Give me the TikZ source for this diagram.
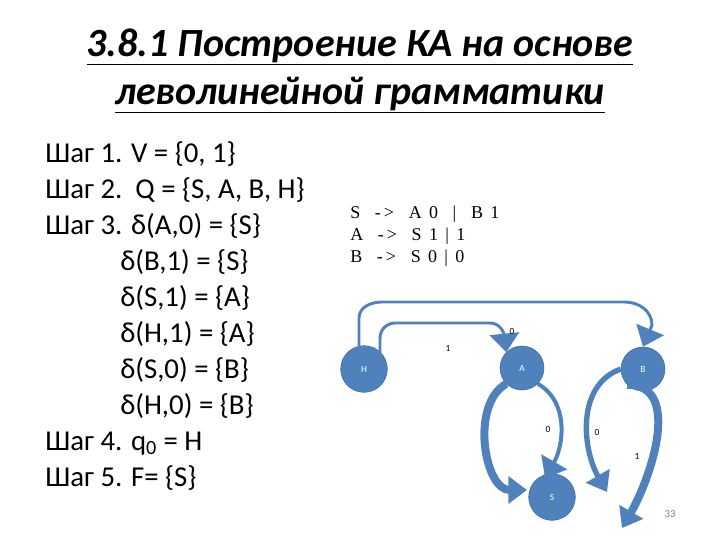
\documentclass[tikz,border=0pt]{standalone}
\usepackage{fontspec}
\setmainfont{Carlito}
\newfontfamily\gram{Liberation Serif}
\usetikzlibrary{arrows.meta}
\definecolor{ob}{HTML}{4F81BD}
\definecolor{obd}{HTML}{3C6AA3}
\newcommand{\gs}{\hspace{5.5pt}}
\begin{document}
\begin{tikzpicture}[x=0.75pt,y=-0.75pt,
 st/.style={circle,fill=ob,draw=obd,minimum size=35pt,inner sep=0pt,text=white,font=\fontsize{7}{8}\selectfont},
 body/.style={anchor=base west,inner sep=0pt,font=\fontsize{21.6}{24}\selectfont},
 ttl/.style={font=\fontsize{30}{34}\selectfont\bfseries\itshape,inner sep=0pt,anchor=base},
 gr/.style={anchor=base west,inner sep=0pt,font=\gram\fontsize{13.5}{16}\selectfont},
 lbl/.style={font=\fontsize{7}{8}\selectfont,inner sep=0pt},
 thin/.style={draw=obd,line width=2.2pt,-{Triangle[length=14pt,width=22pt]},color=ob},
 fat/.style={draw=ob,line width=6pt,-{Triangle[length=14pt,width=20pt]},color=ob}]
\useasboundingbox (0,0) rectangle (720,540);
\node[ttl] (t1) at (360,56) {\underline{3.8.1 Построение КА на основе}};
\node[ttl] (t2) at (360,104) {\underline{леволинейной грамматики}};
\node[body] (l1) at (45,162) {Шаг 1. V = \{0, 1\}};
\node[body] (l2) at (45,198) {Шаг 2.\ \ Q = \{S, A, B, H\}};
\node[body] (l3) at (45,234) {Шаг 3. δ(A,0) = \{S\}};
\node[body] (l4) at (120,270) {δ(B,1) = \{S\}};
\node[body] (l5) at (120,306) {δ(S,1) = \{A\}};
\node[body] (l6) at (120,342) {δ(H,1) = \{A\}};
\node[body] (l7) at (120,378) {δ(S,0) = \{B\}};
\node[body] (l8) at (120,414) {δ(H,0) = \{B\}};
\node[body] (l9) at (45,450) {Шаг 4. q\textsubscript{0} = H};
\node[body] (l10) at (45,486) {Шаг 5. F= \{S\}};
\node[gr] (g1) at (350,218) {S\gs\gs-\,>\gs\gs A\gs 0\gs\gs|\gs\gs B\gs 1};
\node[gr] (g2) at (350,240) {A\gs\gs -\,>\gs\gs S\gs 1\gs|\gs 1};
\node[gr] (g3) at (350,262) {B\gs\gs -\,>\gs\gs S\gs 0\gs|\gs 0};
\node[st] (H) at (364,369) {H};
\node[st,minimum size=33pt] (A) at (522,368) {A};
\node[st,minimum size=33pt] (B) at (643,369) {B};
\node[st] (S) at (552,497) {S};
\coordinate (h1) at (359,360);
\coordinate (h2) at (380,368);
\draw[thin] (h1) -- (359,318) to[out=90,in=180] (382,302) -- (625,302) to[out=0,in=90] (652,325) -- (B.north);
\draw[thin] (h2) -- (380,338) to[out=90,in=180] (395,323) -- (490,323) to[out=0,in=90] (505,340) -- (A.north west);
\draw[fat] (A.south west) to[out=210,in=180] (527,490);
\draw[thin,line width=3pt] (A.south east) to[out=-30,in=60] (545,478);
\coordinate (bl) at (607,492);
\draw[fat,line width=4pt] (B.west) to[out=200,in=120] (bl);
\coordinate (br) at (622,528);
\draw[fat] (B.south west) to[out=0,in=60] (br);
\node[lbl] (n1) at (448,348) {1};
\node[lbl] (n2) at (512,331) {0};
\node[lbl] (n3) at (548,429) {0};
\node[lbl] (n4) at (597,432) {0};
\node[lbl] (n5) at (637,456) {1};
\node[lbl,text=gray,font=\fontsize{8}{9}\selectfont] (pg) at (670,514) {33};
\end{tikzpicture}
\end{document}
